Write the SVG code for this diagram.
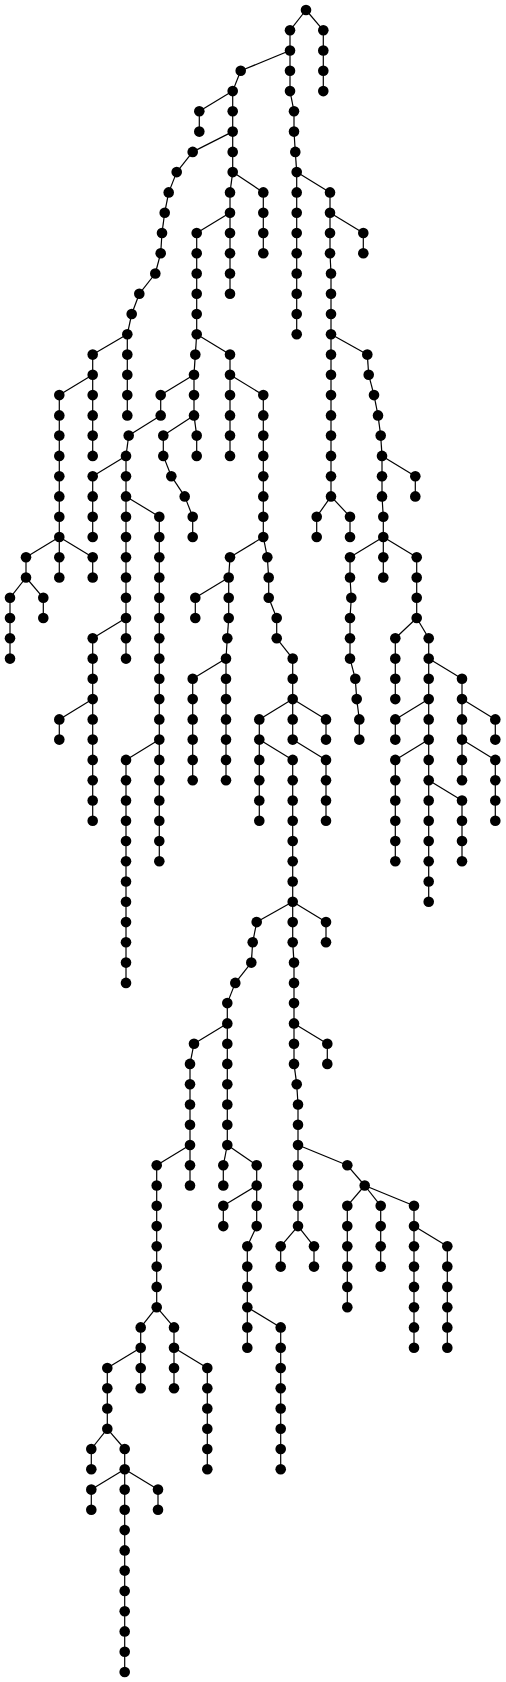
<svg xmlns="http://www.w3.org/2000/svg" width="506" height="1682" viewBox="0 0 506 1682">
<style>
#edges path{stroke:#000;stroke-width:1.2;fill:none}
#nodes circle{fill:#000;stroke:none}
</style>
<rect width="506" height="1682" fill="#fff"/>
<g id="edges">
<path d="M306 10L323.3 30.3"/><path d="M323.3 30.3V50.5"/><path d="M323.3 50.5V70.8"/><path d="M323.3 70.8V91.1"/>
<path d="M306 10L290 30.3"/><path d="M290 30.3V50.5"/><path d="M290 50.5V70.8"/><path d="M290 70.8V91.1"/><path d="M290 91.1L294 111.3"/><path d="M294 111.3V131.6"/><path d="M294 131.6L295.3 151.9"/><path d="M295.3 151.9L296.7 172.1"/><path d="M296.7 172.1V192.4"/><path d="M296.7 192.4V212.7"/><path d="M296.7 212.7V233"/><path d="M296.7 233V253.2"/><path d="M296.7 253.2V273.5"/><path d="M296.7 273.5V293.8"/><path d="M296.7 293.8V314"/><path d="M296.7 314V334.3"/>
<path d="M296.7 172.1L330 192.4"/><path d="M330 192.4V212.7"/><path d="M330 212.7V233"/><path d="M330 233V253.2"/><path d="M330 253.2L331 273.5"/><path d="M331 273.5V293.8"/><path d="M331 293.8V314"/><path d="M331 314V334.3"/><path d="M331 334.3V354.6"/><path d="M331 354.6V374.8"/><path d="M331 374.8V395.1"/><path d="M331 395.1V415.4"/><path d="M331 415.4V435.6"/><path d="M331 435.6V455.9"/><path d="M331 455.9V476.2"/><path d="M331 476.2V496.4"/>
<path d="M330 212.7L363.3 233"/><path d="M363.3 233V253.2"/>
<path d="M331 496.4L316.7 516.7"/><path d="M316.7 516.7V537"/>
<path d="M331 496.4L350 516.7"/><path d="M350 516.7V537"/>
<path d="M331 334.3L367.3 354.6"/><path d="M367.3 354.6L368.7 374.8"/><path d="M368.7 374.8L374 395.1"/><path d="M374 395.1L378 415.4"/><path d="M378 415.4L380.7 435.6"/><path d="M380.7 435.6L382 455.9"/><path d="M382 455.9V476.2"/><path d="M382 476.2V496.4"/><path d="M382 496.4L383.3 516.7"/><path d="M383.3 516.7V537"/><path d="M383.3 537V557.2"/><path d="M383.3 557.2V577.5"/>
<path d="M382 455.9L415.3 476.2"/><path d="M415.3 476.2V496.4"/>
<path d="M383.3 537L350 557.2"/><path d="M350 557.2V577.5"/><path d="M350 577.5L351.3 597.8"/><path d="M351.3 597.8L350 618"/><path d="M350 618V638.3"/><path d="M350 638.3V658.6"/><path d="M350 658.6L355.3 678.8"/><path d="M355.3 678.8L356.7 699.1"/><path d="M356.7 699.1L359.3 719.4"/><path d="M359.3 719.4V739.6"/>
<path d="M383.3 537L416.7 557.2"/><path d="M416.7 557.2V577.5"/><path d="M416.7 577.5V597.8"/><path d="M416.7 597.8V618"/><path d="M416.7 618L428.7 638.3"/><path d="M428.7 638.3V658.6"/><path d="M428.7 658.6V678.8"/><path d="M428.7 678.8V699.1"/><path d="M428.7 699.1V719.4"/><path d="M428.7 719.4V739.6"/><path d="M428.7 739.6V759.9"/><path d="M428.7 759.9V780.2"/><path d="M428.7 780.2V800.5"/><path d="M428.7 800.5V820.7"/><path d="M428.7 820.7V841"/><path d="M428.7 841V861.3"/><path d="M428.7 861.3V881.5"/><path d="M428.7 881.5V901.8"/>
<path d="M416.7 618L395.3 638.3"/><path d="M395.3 638.3V658.6"/><path d="M395.3 658.6V678.8"/><path d="M395.3 678.8V699.1"/>
<path d="M428.7 658.6L462 678.8"/><path d="M462 678.8V699.1"/><path d="M462 699.1V719.4"/><path d="M462 719.4V739.6"/><path d="M462 739.6V759.9"/><path d="M462 759.9V780.2"/>
<path d="M428.7 699.1L395.3 719.4"/><path d="M395.3 719.4V739.6"/>
<path d="M462 699.1L495.3 719.4"/><path d="M495.3 719.4V739.6"/>
<path d="M428.7 739.6L395.3 759.9"/><path d="M395.3 759.9V780.2"/><path d="M395.3 780.2V800.5"/><path d="M395.3 800.5V820.7"/><path d="M395.3 820.7V841"/><path d="M395.3 841V861.3"/>
<path d="M462 739.6L495.3 759.9"/><path d="M495.3 759.9V780.2"/><path d="M495.3 780.2V800.5"/><path d="M495.3 800.5V820.7"/>
<path d="M428.7 780.2L462 800.5"/><path d="M462 800.5V820.7"/><path d="M462 820.7V841"/><path d="M462 841V861.3"/>
<path d="M290 50.5L240.7 70.8"/><path d="M240.7 70.8L232.7 91.1"/><path d="M232.7 91.1V111.3"/><path d="M232.7 111.3V131.6"/><path d="M232.7 131.6V151.9"/><path d="M232.7 151.9V172.1"/>
<path d="M232.7 91.1L199.3 111.3"/><path d="M199.3 111.3V131.6"/>
<path d="M232.7 131.6L192.7 151.9"/><path d="M192.7 151.9L176.7 172.1"/><path d="M176.7 172.1L168.7 192.4"/><path d="M168.7 192.4L164.7 212.7"/><path d="M164.7 212.7L162 233"/><path d="M162 233L160.7 253.2"/><path d="M160.7 253.2L155.3 273.5"/><path d="M155.3 273.5L139.3 293.8"/><path d="M139.3 293.8L131.7 314"/><path d="M131.7 314L127.3 334.3"/><path d="M127.3 334.3V354.6"/><path d="M127.3 354.6V374.8"/><path d="M127.3 374.8V395.1"/><path d="M127.3 395.1V415.4"/>
<path d="M232.7 172.1L263.3 192.4"/><path d="M263.3 192.4V212.7"/><path d="M263.3 212.7V233"/><path d="M263.3 233V253.2"/>
<path d="M232.7 172.1L230 192.4"/><path d="M230 192.4V212.7"/><path d="M230 212.7V233"/><path d="M230 233V253.2"/><path d="M230 253.2V273.5"/><path d="M230 273.5V293.8"/>
<path d="M230 212.7L196.7 233"/><path d="M196.7 233V253.2"/><path d="M196.7 253.2V273.5"/><path d="M196.7 273.5V293.8"/><path d="M196.7 293.8V314"/><path d="M196.7 314V334.3"/><path d="M196.7 334.3L195.3 354.6"/><path d="M195.3 354.6L194 374.8"/><path d="M194 374.8V395.1"/><path d="M194 395.1V415.4"/><path d="M194 415.4L196.7 435.6"/><path d="M196.7 435.6V455.9"/>
<path d="M194 374.8L160.7 395.1"/><path d="M160.7 395.1V415.4"/><path d="M160.7 415.4L128.7 435.6"/><path d="M128.7 435.6L126 455.9"/><path d="M126 455.9V476.2"/><path d="M126 476.2V496.4"/><path d="M126 496.4V516.7"/><path d="M126 516.7V537"/><path d="M126 537V557.2"/><path d="M126 557.2V577.5"/><path d="M126 577.5V597.8"/><path d="M126 597.8V618"/><path d="M126 618V638.3"/><path d="M126 638.3V658.6"/>
<path d="M194 415.4L163.3 435.6"/><path d="M163.3 435.6V455.9"/><path d="M163.3 455.9L171.3 476.2"/><path d="M171.3 476.2L184.7 496.4"/><path d="M184.7 496.4L192.7 516.7"/><path d="M192.7 516.7V537"/>
<path d="M126 455.9L92.7 476.2"/><path d="M92.7 476.2V496.4"/><path d="M92.7 496.4V516.7"/><path d="M92.7 516.7V537"/>
<path d="M126 496.4L159.3 516.7"/><path d="M159.3 516.7V537"/><path d="M159.3 537V557.2"/><path d="M159.3 557.2V577.5"/><path d="M159.3 577.5V597.8"/><path d="M159.3 597.8V618"/><path d="M159.3 618V638.3"/><path d="M159.3 638.3V658.6"/><path d="M159.3 658.6V678.8"/><path d="M159.3 678.8V699.1"/><path d="M159.3 699.1V719.4"/><path d="M159.3 719.4V739.6"/><path d="M159.3 739.6V759.9"/><path d="M159.3 759.9V780.2"/><path d="M159.3 780.2V800.5"/><path d="M159.3 800.5V820.7"/><path d="M159.3 820.7V841"/><path d="M159.3 841V861.3"/>
<path d="M126 618L92.7 638.3"/><path d="M92.7 638.3V658.6"/><path d="M92.7 658.6V678.8"/><path d="M92.7 678.8V699.1"/><path d="M92.7 699.1V719.4"/><path d="M92.7 719.4V739.6"/><path d="M92.7 739.6V759.9"/><path d="M92.7 759.9V780.2"/><path d="M92.7 780.2V800.5"/><path d="M92.7 800.5V820.7"/>
<path d="M92.7 699.1L59.3 719.4"/><path d="M59.3 719.4V739.6"/>
<path d="M159.3 739.6L126 759.9"/><path d="M126 759.9V780.2"/><path d="M126 780.2V800.5"/><path d="M126 800.5V820.7"/><path d="M126 820.7V841"/><path d="M126 841V861.3"/><path d="M126 861.3V881.5"/><path d="M126 881.5V901.8"/><path d="M126 901.8V922.1"/><path d="M126 922.1V942.3"/><path d="M126 942.3V962.6"/><path d="M126 962.6V982.9"/>
<path d="M196.7 334.3L230 354.6"/><path d="M230 354.6V374.8"/><path d="M230 374.8V395.1"/><path d="M230 395.1V415.4"/><path d="M230 415.4V435.6"/><path d="M230 435.6V455.9"/>
<path d="M230 374.8L263.3 395.1"/><path d="M263.3 395.1V415.4"/><path d="M263.3 415.4V435.6"/><path d="M263.3 435.6V455.9"/><path d="M263.3 455.9V476.2"/><path d="M263.3 476.2V496.4"/><path d="M263.3 496.4V516.7"/><path d="M263.3 516.7V537"/>
<path d="M263.3 537L230 557.2"/><path d="M230 557.2L228.7 577.5"/><path d="M228.7 577.5V597.8"/><path d="M228.7 597.8V618"/><path d="M228.7 618L227.3 638.3"/><path d="M227.3 638.3L226 658.6"/><path d="M226 658.6V678.8"/><path d="M226 678.8V699.1"/><path d="M226 699.1V719.4"/><path d="M226 719.4V739.6"/><path d="M226 739.6V759.9"/><path d="M226 759.9V780.2"/>
<path d="M228.7 577.5L195.3 597.8"/><path d="M195.3 597.8V618"/>
<path d="M226 658.6L192.7 678.8"/><path d="M192.7 678.8V699.1"/><path d="M192.7 699.1V719.4"/><path d="M192.7 719.4V739.6"/><path d="M192.7 739.6V759.9"/><path d="M192.7 759.9V780.2"/>
<path d="M263.3 537L267.3 557.2"/><path d="M267.3 557.2L268.7 577.5"/><path d="M268.7 577.5V597.8"/><path d="M268.7 597.8L276.7 618"/><path d="M276.7 618V638.3"/><path d="M276.7 638.3L292.7 658.6"/><path d="M292.7 658.6V678.8"/><path d="M292.7 678.8V699.1"/><path d="M292.7 699.1V719.4"/><path d="M292.7 719.4V739.6"/><path d="M292.7 739.6L326 759.9"/><path d="M326 759.9V780.2"/><path d="M326 780.2V800.5"/><path d="M326 800.5V820.7"/>
<path d="M292.7 699.1L259.3 719.4"/><path d="M259.3 719.4V739.6"/><path d="M259.3 739.6V759.9"/><path d="M259.3 759.9V780.2"/><path d="M259.3 780.2V800.5"/><path d="M259.3 800.5V820.7"/>
<path d="M292.7 699.1L326 719.4"/><path d="M326 719.4V739.6"/>
<path d="M259.3 739.6L292.7 759.9"/><path d="M292.7 759.9V780.2"/><path d="M292.7 780.2V800.5"/><path d="M292.7 800.5V820.7"/><path d="M292.7 820.7V841"/><path d="M292.7 841V861.3"/><path d="M292.7 861.3V881.5"/><path d="M292.7 881.5V901.8"/><path d="M292.7 901.8V922.1"/><path d="M292.7 922.1V942.3"/><path d="M292.7 942.3L294 962.6"/><path d="M294 962.6V982.9"/><path d="M294 982.9V1003.1"/><path d="M294 1003.1V1023.4"/><path d="M294 1023.4V1043.7"/><path d="M294 1043.7V1063.9"/><path d="M294 1063.9L296.7 1084.2"/><path d="M296.7 1084.2L298 1104.5"/><path d="M298 1104.5V1124.7"/><path d="M298 1124.7V1145"/><path d="M298 1145V1165.3"/><path d="M298 1165.3V1185.5"/><path d="M298 1185.5V1205.8"/><path d="M298 1205.8V1226.1"/>
<path d="M292.7 901.8L326 922.1"/><path d="M326 922.1V942.3"/>
<path d="M292.7 901.8L256.7 922.1"/><path d="M256.7 922.1L252.7 942.3"/><path d="M252.7 942.3L251.3 962.6"/><path d="M251.3 962.6L235.3 982.9"/><path d="M235.3 982.9L227.3 1003.1"/><path d="M227.3 1003.1V1023.4"/><path d="M227.3 1023.4V1043.7"/><path d="M227.3 1043.7V1063.9"/><path d="M227.3 1063.9V1084.2"/><path d="M227.3 1084.2V1104.5"/><path d="M227.3 1104.5V1124.7"/><path d="M227.3 1124.7V1145"/><path d="M227.3 1145L223.3 1165.3"/><path d="M223.3 1165.3V1185.5"/>
<path d="M227.3 1023.4L194 1043.7"/><path d="M194 1043.7L190 1063.9"/><path d="M190 1063.9V1084.2"/><path d="M190 1084.2V1104.5"/><path d="M190 1104.5V1124.7"/><path d="M190 1124.7V1145"/><path d="M190 1145V1165.3"/><path d="M190 1165.3V1185.5"/>
<path d="M190 1145L156.7 1165.3"/><path d="M156.7 1165.3V1185.5"/><path d="M156.7 1185.5V1205.8"/><path d="M156.7 1205.8V1226.1"/><path d="M156.7 1226.1V1246.3"/><path d="M156.7 1246.3V1266.6"/><path d="M156.7 1266.6V1286.9"/><path d="M156.7 1286.9V1307.2"/>
<path d="M227.3 1145L256.7 1165.3"/><path d="M256.7 1165.3V1185.5"/><path d="M256.7 1185.5V1205.8"/><path d="M256.7 1205.8V1226.1"/><path d="M256.7 1226.1L247.3 1246.3"/><path d="M247.3 1246.3V1266.6"/><path d="M247.3 1266.6V1286.9"/><path d="M247.3 1286.9V1307.2"/><path d="M247.3 1307.2V1327.4"/><path d="M247.3 1327.4V1347.7"/>
<path d="M256.7 1185.5L223.3 1205.8"/><path d="M223.3 1205.8V1226.1"/>
<path d="M294 1023.4L327.3 1043.7"/><path d="M327.3 1043.7V1063.9"/>
<path d="M298 1145L347.3 1165.3"/><path d="M347.3 1165.3L364.7 1185.5"/><path d="M364.7 1185.5L380.7 1205.8"/><path d="M380.7 1205.8V1226.1"/><path d="M380.7 1226.1V1246.3"/><path d="M380.7 1246.3V1266.6"/>
<path d="M364.7 1185.5L347.3 1205.8"/><path d="M347.3 1205.8V1226.1"/><path d="M347.3 1226.1V1246.3"/><path d="M347.3 1246.3V1266.6"/><path d="M347.3 1266.6V1286.9"/><path d="M347.3 1286.9V1307.2"/>
<path d="M364.7 1185.5L414 1205.8"/><path d="M414 1205.8V1226.1"/><path d="M414 1226.1V1246.3"/><path d="M414 1246.3V1266.6"/><path d="M414 1266.6V1286.9"/><path d="M414 1286.9V1307.2"/><path d="M414 1307.2V1327.4"/><path d="M414 1327.4V1347.7"/>
<path d="M414 1226.1L447.3 1246.3"/><path d="M447.3 1246.3V1266.6"/><path d="M447.3 1266.6V1286.9"/><path d="M447.3 1286.9V1307.2"/><path d="M447.3 1307.2V1327.4"/><path d="M447.3 1327.4V1347.7"/>
<path d="M298 1226.1L280.7 1246.3"/><path d="M280.7 1246.3V1266.6"/>
<path d="M298 1226.1L314 1246.3"/><path d="M314 1246.3V1266.6"/>
<path d="M247.3 1307.2L280.7 1327.4"/><path d="M280.7 1327.4V1347.7"/><path d="M280.7 1347.7V1368"/><path d="M280.7 1368V1388.2"/><path d="M280.7 1388.2V1408.5"/><path d="M280.7 1408.5V1428.8"/><path d="M280.7 1428.8V1449"/><path d="M280.7 1449V1469.3"/>
<path d="M156.7 1307.2L140.7 1327.4"/><path d="M140.7 1327.4V1347.7"/><path d="M140.7 1347.7V1368"/><path d="M140.7 1368V1388.2"/>
<path d="M156.7 1307.2L174 1327.4"/><path d="M174 1327.4V1347.7"/><path d="M174 1347.7V1368"/><path d="M174 1368V1388.2"/>
<path d="M140.7 1347.7L107.3 1368"/><path d="M107.3 1368V1388.2"/><path d="M107.3 1388.2V1408.5"/><path d="M107.3 1408.5V1428.8"/>
<path d="M174 1347.7L207.3 1368"/><path d="M207.3 1368V1388.2"/><path d="M207.3 1388.2V1408.5"/><path d="M207.3 1408.5V1428.8"/><path d="M207.3 1428.8V1449"/><path d="M207.3 1449V1469.3"/>
<path d="M107.3 1428.8L91.3 1449"/><path d="M91.3 1449V1469.3"/>
<path d="M107.3 1428.8L124.7 1449"/><path d="M124.7 1449V1469.3"/><path d="M124.7 1469.3V1489.6"/><path d="M124.7 1489.6V1509.8"/><path d="M124.7 1509.8V1530.1"/><path d="M124.7 1530.1V1550.4"/><path d="M124.7 1550.4V1570.6"/><path d="M124.7 1570.6V1590.9"/><path d="M124.7 1590.9V1611.2"/><path d="M124.7 1611.2V1631.4"/><path d="M124.7 1631.4V1651.7"/><path d="M124.7 1651.7V1672"/>
<path d="M124.7 1469.3L91.3 1489.6"/><path d="M91.3 1489.6V1509.8"/>
<path d="M124.7 1469.3L158 1489.6"/><path d="M158 1489.6V1509.8"/>
<path d="M127.3 334.3L92.7 354.6"/><path d="M92.7 354.6V374.8"/><path d="M92.7 374.8V395.1"/><path d="M92.7 395.1V415.4"/><path d="M92.7 415.4V435.6"/><path d="M92.7 435.6V455.9"/>
<path d="M92.7 374.8L59.3 395.1"/><path d="M59.3 395.1V415.4"/><path d="M59.3 415.4V435.6"/><path d="M59.3 435.6V455.9"/><path d="M59.3 455.9V476.2"/><path d="M59.3 476.2V496.4"/><path d="M59.3 496.4V516.7"/><path d="M59.3 516.7V537"/><path d="M59.3 537V557.2"/><path d="M59.3 557.2V577.5"/>
<path d="M59.3 537L26 557.2"/><path d="M26 557.2V577.5"/><path d="M26 577.5L10 597.8"/><path d="M10 597.8V618"/><path d="M10 618V638.3"/><path d="M10 638.3V658.6"/>
<path d="M26 577.5L43.3 597.8"/><path d="M43.3 597.8V618"/>
<path d="M59.3 537L92.7 557.2"/><path d="M92.7 557.2V577.5"/>
</g>
<g id="nodes">
<g id="n0-306"><circle cx="306" cy="10" r="5.3"/></g>
<g id="n1-323"><circle cx="323.3" cy="30.3" r="5.3"/></g>
<g id="n2-323"><circle cx="323.3" cy="50.5" r="5.3"/></g>
<g id="n3-323"><circle cx="323.3" cy="70.8" r="5.3"/></g>
<g id="n4-323"><circle cx="323.3" cy="91.1" r="5.3"/></g>
<g id="n1-290"><circle cx="290" cy="30.3" r="5.3"/></g>
<g id="n2-290"><circle cx="290" cy="50.5" r="5.3"/></g>
<g id="n3-290"><circle cx="290" cy="70.8" r="5.3"/></g>
<g id="n4-290"><circle cx="290" cy="91.1" r="5.3"/></g>
<g id="n5-294"><circle cx="294" cy="111.3" r="5.3"/></g>
<g id="n6-294"><circle cx="294" cy="131.6" r="5.3"/></g>
<g id="n7-295"><circle cx="295.3" cy="151.9" r="5.3"/></g>
<g id="n8-296"><circle cx="296.7" cy="172.1" r="5.3"/></g>
<g id="n9-296"><circle cx="296.7" cy="192.4" r="5.3"/></g>
<g id="n10-296"><circle cx="296.7" cy="212.7" r="5.3"/></g>
<g id="n11-296"><circle cx="296.7" cy="233" r="5.3"/></g>
<g id="n12-296"><circle cx="296.7" cy="253.2" r="5.3"/></g>
<g id="n13-296"><circle cx="296.7" cy="273.5" r="5.3"/></g>
<g id="n14-296"><circle cx="296.7" cy="293.8" r="5.3"/></g>
<g id="n15-296"><circle cx="296.7" cy="314" r="5.3"/></g>
<g id="n16-296"><circle cx="296.7" cy="334.3" r="5.3"/></g>
<g id="n9-330"><circle cx="330" cy="192.4" r="5.3"/></g>
<g id="n10-330"><circle cx="330" cy="212.7" r="5.3"/></g>
<g id="n11-330"><circle cx="330" cy="233" r="5.3"/></g>
<g id="n12-330"><circle cx="330" cy="253.2" r="5.3"/></g>
<g id="n13-331"><circle cx="331" cy="273.5" r="5.3"/></g>
<g id="n14-331"><circle cx="331" cy="293.8" r="5.3"/></g>
<g id="n15-331"><circle cx="331" cy="314" r="5.3"/></g>
<g id="n16-331"><circle cx="331" cy="334.3" r="5.3"/></g>
<g id="n17-331"><circle cx="331" cy="354.6" r="5.3"/></g>
<g id="n18-331"><circle cx="331" cy="374.8" r="5.3"/></g>
<g id="n19-331"><circle cx="331" cy="395.1" r="5.3"/></g>
<g id="n20-331"><circle cx="331" cy="415.4" r="5.3"/></g>
<g id="n21-331"><circle cx="331" cy="435.6" r="5.3"/></g>
<g id="n22-331"><circle cx="331" cy="455.9" r="5.3"/></g>
<g id="n23-331"><circle cx="331" cy="476.2" r="5.3"/></g>
<g id="n24-331"><circle cx="331" cy="496.4" r="5.3"/></g>
<g id="n11-363"><circle cx="363.3" cy="233" r="5.3"/></g>
<g id="n12-363"><circle cx="363.3" cy="253.2" r="5.3"/></g>
<g id="n25-316"><circle cx="316.7" cy="516.7" r="5.3"/></g>
<g id="n26-316"><circle cx="316.7" cy="537" r="5.3"/></g>
<g id="n25-350"><circle cx="350" cy="516.7" r="5.3"/></g>
<g id="n26-350"><circle cx="350" cy="537" r="5.3"/></g>
<g id="n17-367"><circle cx="367.3" cy="354.6" r="5.3"/></g>
<g id="n18-368"><circle cx="368.7" cy="374.8" r="5.3"/></g>
<g id="n19-374"><circle cx="374" cy="395.1" r="5.3"/></g>
<g id="n20-378"><circle cx="378" cy="415.4" r="5.3"/></g>
<g id="n21-380"><circle cx="380.7" cy="435.6" r="5.3"/></g>
<g id="n22-382"><circle cx="382" cy="455.9" r="5.3"/></g>
<g id="n23-382"><circle cx="382" cy="476.2" r="5.3"/></g>
<g id="n24-382"><circle cx="382" cy="496.4" r="5.3"/></g>
<g id="n25-383"><circle cx="383.3" cy="516.7" r="5.3"/></g>
<g id="n26-383"><circle cx="383.3" cy="537" r="5.3"/></g>
<g id="n27-383"><circle cx="383.3" cy="557.2" r="5.3"/></g>
<g id="n28-383"><circle cx="383.3" cy="577.5" r="5.3"/></g>
<g id="n23-415"><circle cx="415.3" cy="476.2" r="5.3"/></g>
<g id="n24-415"><circle cx="415.3" cy="496.4" r="5.3"/></g>
<g id="n27-350"><circle cx="350" cy="557.2" r="5.3"/></g>
<g id="n28-350"><circle cx="350" cy="577.5" r="5.3"/></g>
<g id="n29-351"><circle cx="351.3" cy="597.8" r="5.3"/></g>
<g id="n30-350"><circle cx="350" cy="618" r="5.3"/></g>
<g id="n31-350"><circle cx="350" cy="638.3" r="5.3"/></g>
<g id="n32-350"><circle cx="350" cy="658.6" r="5.3"/></g>
<g id="n33-355"><circle cx="355.3" cy="678.8" r="5.3"/></g>
<g id="n34-356"><circle cx="356.7" cy="699.1" r="5.3"/></g>
<g id="n35-359"><circle cx="359.3" cy="719.4" r="5.3"/></g>
<g id="n36-359"><circle cx="359.3" cy="739.6" r="5.3"/></g>
<g id="n27-416"><circle cx="416.7" cy="557.2" r="5.3"/></g>
<g id="n28-416"><circle cx="416.7" cy="577.5" r="5.3"/></g>
<g id="n29-416"><circle cx="416.7" cy="597.8" r="5.3"/></g>
<g id="n30-416"><circle cx="416.7" cy="618" r="5.3"/></g>
<g id="n31-428"><circle cx="428.7" cy="638.3" r="5.3"/></g>
<g id="n32-428"><circle cx="428.7" cy="658.6" r="5.3"/></g>
<g id="n33-428"><circle cx="428.7" cy="678.8" r="5.3"/></g>
<g id="n34-428"><circle cx="428.7" cy="699.1" r="5.3"/></g>
<g id="n35-428"><circle cx="428.7" cy="719.4" r="5.3"/></g>
<g id="n36-428"><circle cx="428.7" cy="739.6" r="5.3"/></g>
<g id="n37-428"><circle cx="428.7" cy="759.9" r="5.3"/></g>
<g id="n38-428"><circle cx="428.7" cy="780.2" r="5.3"/></g>
<g id="n39-428"><circle cx="428.7" cy="800.5" r="5.3"/></g>
<g id="n40-428"><circle cx="428.7" cy="820.7" r="5.3"/></g>
<g id="n41-428"><circle cx="428.7" cy="841" r="5.3"/></g>
<g id="n42-428"><circle cx="428.7" cy="861.3" r="5.3"/></g>
<g id="n43-428"><circle cx="428.7" cy="881.5" r="5.3"/></g>
<g id="n44-428"><circle cx="428.7" cy="901.8" r="5.3"/></g>
<g id="n31-395"><circle cx="395.3" cy="638.3" r="5.3"/></g>
<g id="n32-395"><circle cx="395.3" cy="658.6" r="5.3"/></g>
<g id="n33-395"><circle cx="395.3" cy="678.8" r="5.3"/></g>
<g id="n34-395"><circle cx="395.3" cy="699.1" r="5.3"/></g>
<g id="n33-462"><circle cx="462" cy="678.8" r="5.3"/></g>
<g id="n34-462"><circle cx="462" cy="699.1" r="5.3"/></g>
<g id="n35-462"><circle cx="462" cy="719.4" r="5.3"/></g>
<g id="n36-462"><circle cx="462" cy="739.6" r="5.3"/></g>
<g id="n37-462"><circle cx="462" cy="759.9" r="5.3"/></g>
<g id="n38-462"><circle cx="462" cy="780.2" r="5.3"/></g>
<g id="n35-395"><circle cx="395.3" cy="719.4" r="5.3"/></g>
<g id="n36-395"><circle cx="395.3" cy="739.6" r="5.3"/></g>
<g id="n35-495"><circle cx="495.3" cy="719.4" r="5.3"/></g>
<g id="n36-495"><circle cx="495.3" cy="739.6" r="5.3"/></g>
<g id="n37-395"><circle cx="395.3" cy="759.9" r="5.3"/></g>
<g id="n38-395"><circle cx="395.3" cy="780.2" r="5.3"/></g>
<g id="n39-395"><circle cx="395.3" cy="800.5" r="5.3"/></g>
<g id="n40-395"><circle cx="395.3" cy="820.7" r="5.3"/></g>
<g id="n41-395"><circle cx="395.3" cy="841" r="5.3"/></g>
<g id="n42-395"><circle cx="395.3" cy="861.3" r="5.3"/></g>
<g id="n37-495"><circle cx="495.3" cy="759.9" r="5.3"/></g>
<g id="n38-495"><circle cx="495.3" cy="780.2" r="5.3"/></g>
<g id="n39-495"><circle cx="495.3" cy="800.5" r="5.3"/></g>
<g id="n40-495"><circle cx="495.3" cy="820.7" r="5.3"/></g>
<g id="n39-462"><circle cx="462" cy="800.5" r="5.3"/></g>
<g id="n40-462"><circle cx="462" cy="820.7" r="5.3"/></g>
<g id="n41-462"><circle cx="462" cy="841" r="5.3"/></g>
<g id="n42-462"><circle cx="462" cy="861.3" r="5.3"/></g>
<g id="n3-240"><circle cx="240.7" cy="70.8" r="5.3"/></g>
<g id="n4-232"><circle cx="232.7" cy="91.1" r="5.3"/></g>
<g id="n5-232"><circle cx="232.7" cy="111.3" r="5.3"/></g>
<g id="n6-232"><circle cx="232.7" cy="131.6" r="5.3"/></g>
<g id="n7-232"><circle cx="232.7" cy="151.9" r="5.3"/></g>
<g id="n8-232"><circle cx="232.7" cy="172.1" r="5.3"/></g>
<g id="n5-199"><circle cx="199.3" cy="111.3" r="5.3"/></g>
<g id="n6-199"><circle cx="199.3" cy="131.6" r="5.3"/></g>
<g id="n7-192"><circle cx="192.7" cy="151.9" r="5.3"/></g>
<g id="n8-176"><circle cx="176.7" cy="172.1" r="5.3"/></g>
<g id="n9-168"><circle cx="168.7" cy="192.4" r="5.3"/></g>
<g id="n10-164"><circle cx="164.7" cy="212.7" r="5.3"/></g>
<g id="n11-162"><circle cx="162" cy="233" r="5.3"/></g>
<g id="n12-160"><circle cx="160.7" cy="253.2" r="5.3"/></g>
<g id="n13-155"><circle cx="155.3" cy="273.5" r="5.3"/></g>
<g id="n14-139"><circle cx="139.3" cy="293.8" r="5.3"/></g>
<g id="n15-131"><circle cx="131.7" cy="314" r="5.3"/></g>
<g id="n16-127"><circle cx="127.3" cy="334.3" r="5.3"/></g>
<g id="n17-127"><circle cx="127.3" cy="354.6" r="5.3"/></g>
<g id="n18-127"><circle cx="127.3" cy="374.8" r="5.3"/></g>
<g id="n19-127"><circle cx="127.3" cy="395.1" r="5.3"/></g>
<g id="n20-127"><circle cx="127.3" cy="415.4" r="5.3"/></g>
<g id="n9-263"><circle cx="263.3" cy="192.4" r="5.3"/></g>
<g id="n10-263"><circle cx="263.3" cy="212.7" r="5.3"/></g>
<g id="n11-263"><circle cx="263.3" cy="233" r="5.3"/></g>
<g id="n12-263"><circle cx="263.3" cy="253.2" r="5.3"/></g>
<g id="n9-230"><circle cx="230" cy="192.4" r="5.3"/></g>
<g id="n10-230"><circle cx="230" cy="212.7" r="5.3"/></g>
<g id="n11-230"><circle cx="230" cy="233" r="5.3"/></g>
<g id="n12-230"><circle cx="230" cy="253.2" r="5.3"/></g>
<g id="n13-230"><circle cx="230" cy="273.5" r="5.3"/></g>
<g id="n14-230"><circle cx="230" cy="293.8" r="5.3"/></g>
<g id="n11-196"><circle cx="196.7" cy="233" r="5.3"/></g>
<g id="n12-196"><circle cx="196.7" cy="253.2" r="5.3"/></g>
<g id="n13-196"><circle cx="196.7" cy="273.5" r="5.3"/></g>
<g id="n14-196"><circle cx="196.7" cy="293.8" r="5.3"/></g>
<g id="n15-196"><circle cx="196.7" cy="314" r="5.3"/></g>
<g id="n16-196"><circle cx="196.7" cy="334.3" r="5.3"/></g>
<g id="n17-195"><circle cx="195.3" cy="354.6" r="5.3"/></g>
<g id="n18-194"><circle cx="194" cy="374.8" r="5.3"/></g>
<g id="n19-194"><circle cx="194" cy="395.1" r="5.3"/></g>
<g id="n20-194"><circle cx="194" cy="415.4" r="5.3"/></g>
<g id="n21-196"><circle cx="196.7" cy="435.6" r="5.3"/></g>
<g id="n22-196"><circle cx="196.7" cy="455.9" r="5.3"/></g>
<g id="n19-160"><circle cx="160.7" cy="395.1" r="5.3"/></g>
<g id="n20-160"><circle cx="160.7" cy="415.4" r="5.3"/></g>
<g id="n21-128"><circle cx="128.7" cy="435.6" r="5.3"/></g>
<g id="n22-126"><circle cx="126" cy="455.9" r="5.3"/></g>
<g id="n23-126"><circle cx="126" cy="476.2" r="5.3"/></g>
<g id="n24-126"><circle cx="126" cy="496.4" r="5.3"/></g>
<g id="n25-126"><circle cx="126" cy="516.7" r="5.3"/></g>
<g id="n26-126"><circle cx="126" cy="537" r="5.3"/></g>
<g id="n27-126"><circle cx="126" cy="557.2" r="5.3"/></g>
<g id="n28-126"><circle cx="126" cy="577.5" r="5.3"/></g>
<g id="n29-126"><circle cx="126" cy="597.8" r="5.3"/></g>
<g id="n30-126"><circle cx="126" cy="618" r="5.3"/></g>
<g id="n31-126"><circle cx="126" cy="638.3" r="5.3"/></g>
<g id="n32-126"><circle cx="126" cy="658.6" r="5.3"/></g>
<g id="n21-163"><circle cx="163.3" cy="435.6" r="5.3"/></g>
<g id="n22-163"><circle cx="163.3" cy="455.9" r="5.3"/></g>
<g id="n23-171"><circle cx="171.3" cy="476.2" r="5.3"/></g>
<g id="n24-184"><circle cx="184.7" cy="496.4" r="5.3"/></g>
<g id="n25-192"><circle cx="192.7" cy="516.7" r="5.3"/></g>
<g id="n26-192"><circle cx="192.7" cy="537" r="5.3"/></g>
<g id="n23-92"><circle cx="92.7" cy="476.2" r="5.3"/></g>
<g id="n24-92"><circle cx="92.7" cy="496.4" r="5.3"/></g>
<g id="n25-92"><circle cx="92.7" cy="516.7" r="5.3"/></g>
<g id="n26-92"><circle cx="92.7" cy="537" r="5.3"/></g>
<g id="n25-159"><circle cx="159.3" cy="516.7" r="5.3"/></g>
<g id="n26-159"><circle cx="159.3" cy="537" r="5.3"/></g>
<g id="n27-159"><circle cx="159.3" cy="557.2" r="5.3"/></g>
<g id="n28-159"><circle cx="159.3" cy="577.5" r="5.3"/></g>
<g id="n29-159"><circle cx="159.3" cy="597.8" r="5.3"/></g>
<g id="n30-159"><circle cx="159.3" cy="618" r="5.3"/></g>
<g id="n31-159"><circle cx="159.3" cy="638.3" r="5.3"/></g>
<g id="n32-159"><circle cx="159.3" cy="658.6" r="5.3"/></g>
<g id="n33-159"><circle cx="159.3" cy="678.8" r="5.3"/></g>
<g id="n34-159"><circle cx="159.3" cy="699.1" r="5.3"/></g>
<g id="n35-159"><circle cx="159.3" cy="719.4" r="5.3"/></g>
<g id="n36-159"><circle cx="159.3" cy="739.6" r="5.3"/></g>
<g id="n37-159"><circle cx="159.3" cy="759.9" r="5.3"/></g>
<g id="n38-159"><circle cx="159.3" cy="780.2" r="5.3"/></g>
<g id="n39-159"><circle cx="159.3" cy="800.5" r="5.3"/></g>
<g id="n40-159"><circle cx="159.3" cy="820.7" r="5.3"/></g>
<g id="n41-159"><circle cx="159.3" cy="841" r="5.3"/></g>
<g id="n42-159"><circle cx="159.3" cy="861.3" r="5.3"/></g>
<g id="n31-92"><circle cx="92.7" cy="638.3" r="5.3"/></g>
<g id="n32-92"><circle cx="92.7" cy="658.6" r="5.3"/></g>
<g id="n33-92"><circle cx="92.7" cy="678.8" r="5.3"/></g>
<g id="n34-92"><circle cx="92.7" cy="699.1" r="5.3"/></g>
<g id="n35-92"><circle cx="92.7" cy="719.4" r="5.3"/></g>
<g id="n36-92"><circle cx="92.7" cy="739.6" r="5.3"/></g>
<g id="n37-92"><circle cx="92.7" cy="759.9" r="5.3"/></g>
<g id="n38-92"><circle cx="92.7" cy="780.2" r="5.3"/></g>
<g id="n39-92"><circle cx="92.7" cy="800.5" r="5.3"/></g>
<g id="n40-92"><circle cx="92.7" cy="820.7" r="5.3"/></g>
<g id="n35-59"><circle cx="59.3" cy="719.4" r="5.3"/></g>
<g id="n36-59"><circle cx="59.3" cy="739.6" r="5.3"/></g>
<g id="n37-126"><circle cx="126" cy="759.9" r="5.3"/></g>
<g id="n38-126"><circle cx="126" cy="780.2" r="5.3"/></g>
<g id="n39-126"><circle cx="126" cy="800.5" r="5.3"/></g>
<g id="n40-126"><circle cx="126" cy="820.7" r="5.3"/></g>
<g id="n41-126"><circle cx="126" cy="841" r="5.3"/></g>
<g id="n42-126"><circle cx="126" cy="861.3" r="5.3"/></g>
<g id="n43-126"><circle cx="126" cy="881.5" r="5.3"/></g>
<g id="n44-126"><circle cx="126" cy="901.8" r="5.3"/></g>
<g id="n45-126"><circle cx="126" cy="922.1" r="5.3"/></g>
<g id="n46-126"><circle cx="126" cy="942.3" r="5.3"/></g>
<g id="n47-126"><circle cx="126" cy="962.6" r="5.3"/></g>
<g id="n48-126"><circle cx="126" cy="982.9" r="5.3"/></g>
<g id="n17-230"><circle cx="230" cy="354.6" r="5.3"/></g>
<g id="n18-230"><circle cx="230" cy="374.8" r="5.3"/></g>
<g id="n19-230"><circle cx="230" cy="395.1" r="5.3"/></g>
<g id="n20-230"><circle cx="230" cy="415.4" r="5.3"/></g>
<g id="n21-230"><circle cx="230" cy="435.6" r="5.3"/></g>
<g id="n22-230"><circle cx="230" cy="455.9" r="5.3"/></g>
<g id="n19-263"><circle cx="263.3" cy="395.1" r="5.3"/></g>
<g id="n20-263"><circle cx="263.3" cy="415.4" r="5.3"/></g>
<g id="n21-263"><circle cx="263.3" cy="435.6" r="5.3"/></g>
<g id="n22-263"><circle cx="263.3" cy="455.9" r="5.3"/></g>
<g id="n23-263"><circle cx="263.3" cy="476.2" r="5.3"/></g>
<g id="n24-263"><circle cx="263.3" cy="496.4" r="5.3"/></g>
<g id="n25-263"><circle cx="263.3" cy="516.7" r="5.3"/></g>
<g id="n26-263"><circle cx="263.3" cy="537" r="5.3"/></g>
<g id="n27-230"><circle cx="230" cy="557.2" r="5.3"/></g>
<g id="n28-228"><circle cx="228.7" cy="577.5" r="5.3"/></g>
<g id="n29-228"><circle cx="228.7" cy="597.8" r="5.3"/></g>
<g id="n30-228"><circle cx="228.7" cy="618" r="5.3"/></g>
<g id="n31-227"><circle cx="227.3" cy="638.3" r="5.3"/></g>
<g id="n32-226"><circle cx="226" cy="658.6" r="5.3"/></g>
<g id="n33-226"><circle cx="226" cy="678.8" r="5.3"/></g>
<g id="n34-226"><circle cx="226" cy="699.1" r="5.3"/></g>
<g id="n35-226"><circle cx="226" cy="719.4" r="5.3"/></g>
<g id="n36-226"><circle cx="226" cy="739.6" r="5.3"/></g>
<g id="n37-226"><circle cx="226" cy="759.9" r="5.3"/></g>
<g id="n38-226"><circle cx="226" cy="780.2" r="5.3"/></g>
<g id="n29-195"><circle cx="195.3" cy="597.8" r="5.3"/></g>
<g id="n30-195"><circle cx="195.3" cy="618" r="5.3"/></g>
<g id="n33-192"><circle cx="192.7" cy="678.8" r="5.3"/></g>
<g id="n34-192"><circle cx="192.7" cy="699.1" r="5.3"/></g>
<g id="n35-192"><circle cx="192.7" cy="719.4" r="5.3"/></g>
<g id="n36-192"><circle cx="192.7" cy="739.6" r="5.3"/></g>
<g id="n37-192"><circle cx="192.7" cy="759.9" r="5.3"/></g>
<g id="n38-192"><circle cx="192.7" cy="780.2" r="5.3"/></g>
<g id="n27-267"><circle cx="267.3" cy="557.2" r="5.3"/></g>
<g id="n28-268"><circle cx="268.7" cy="577.5" r="5.3"/></g>
<g id="n29-268"><circle cx="268.7" cy="597.8" r="5.3"/></g>
<g id="n30-276"><circle cx="276.7" cy="618" r="5.3"/></g>
<g id="n31-276"><circle cx="276.7" cy="638.3" r="5.3"/></g>
<g id="n32-292"><circle cx="292.7" cy="658.6" r="5.3"/></g>
<g id="n33-292"><circle cx="292.7" cy="678.8" r="5.3"/></g>
<g id="n34-292"><circle cx="292.7" cy="699.1" r="5.3"/></g>
<g id="n35-292"><circle cx="292.7" cy="719.4" r="5.3"/></g>
<g id="n36-292"><circle cx="292.7" cy="739.6" r="5.3"/></g>
<g id="n37-326"><circle cx="326" cy="759.9" r="5.3"/></g>
<g id="n38-326"><circle cx="326" cy="780.2" r="5.3"/></g>
<g id="n39-326"><circle cx="326" cy="800.5" r="5.3"/></g>
<g id="n40-326"><circle cx="326" cy="820.7" r="5.3"/></g>
<g id="n35-259"><circle cx="259.3" cy="719.4" r="5.3"/></g>
<g id="n36-259"><circle cx="259.3" cy="739.6" r="5.3"/></g>
<g id="n37-259"><circle cx="259.3" cy="759.9" r="5.3"/></g>
<g id="n38-259"><circle cx="259.3" cy="780.2" r="5.3"/></g>
<g id="n39-259"><circle cx="259.3" cy="800.5" r="5.3"/></g>
<g id="n40-259"><circle cx="259.3" cy="820.7" r="5.3"/></g>
<g id="n35-326"><circle cx="326" cy="719.4" r="5.3"/></g>
<g id="n36-326"><circle cx="326" cy="739.6" r="5.3"/></g>
<g id="n37-292"><circle cx="292.7" cy="759.9" r="5.3"/></g>
<g id="n38-292"><circle cx="292.7" cy="780.2" r="5.3"/></g>
<g id="n39-292"><circle cx="292.7" cy="800.5" r="5.3"/></g>
<g id="n40-292"><circle cx="292.7" cy="820.7" r="5.3"/></g>
<g id="n41-292"><circle cx="292.7" cy="841" r="5.3"/></g>
<g id="n42-292"><circle cx="292.7" cy="861.3" r="5.3"/></g>
<g id="n43-292"><circle cx="292.7" cy="881.5" r="5.3"/></g>
<g id="n44-292"><circle cx="292.7" cy="901.8" r="5.3"/></g>
<g id="n45-292"><circle cx="292.7" cy="922.1" r="5.3"/></g>
<g id="n46-292"><circle cx="292.7" cy="942.3" r="5.3"/></g>
<g id="n47-294"><circle cx="294" cy="962.6" r="5.3"/></g>
<g id="n48-294"><circle cx="294" cy="982.9" r="5.3"/></g>
<g id="n49-294"><circle cx="294" cy="1003.1" r="5.3"/></g>
<g id="n50-294"><circle cx="294" cy="1023.4" r="5.3"/></g>
<g id="n51-294"><circle cx="294" cy="1043.7" r="5.3"/></g>
<g id="n52-294"><circle cx="294" cy="1063.9" r="5.3"/></g>
<g id="n53-296"><circle cx="296.7" cy="1084.2" r="5.3"/></g>
<g id="n54-298"><circle cx="298" cy="1104.5" r="5.3"/></g>
<g id="n55-298"><circle cx="298" cy="1124.7" r="5.3"/></g>
<g id="n56-298"><circle cx="298" cy="1145" r="5.3"/></g>
<g id="n57-298"><circle cx="298" cy="1165.3" r="5.3"/></g>
<g id="n58-298"><circle cx="298" cy="1185.5" r="5.3"/></g>
<g id="n59-298"><circle cx="298" cy="1205.8" r="5.3"/></g>
<g id="n60-298"><circle cx="298" cy="1226.1" r="5.3"/></g>
<g id="n45-326"><circle cx="326" cy="922.1" r="5.3"/></g>
<g id="n46-326"><circle cx="326" cy="942.3" r="5.3"/></g>
<g id="n45-256"><circle cx="256.7" cy="922.1" r="5.3"/></g>
<g id="n46-252"><circle cx="252.7" cy="942.3" r="5.3"/></g>
<g id="n47-251"><circle cx="251.3" cy="962.6" r="5.3"/></g>
<g id="n48-235"><circle cx="235.3" cy="982.9" r="5.3"/></g>
<g id="n49-227"><circle cx="227.3" cy="1003.1" r="5.3"/></g>
<g id="n50-227"><circle cx="227.3" cy="1023.4" r="5.3"/></g>
<g id="n51-227"><circle cx="227.3" cy="1043.7" r="5.3"/></g>
<g id="n52-227"><circle cx="227.3" cy="1063.9" r="5.3"/></g>
<g id="n53-227"><circle cx="227.3" cy="1084.2" r="5.3"/></g>
<g id="n54-227"><circle cx="227.3" cy="1104.5" r="5.3"/></g>
<g id="n55-227"><circle cx="227.3" cy="1124.7" r="5.3"/></g>
<g id="n56-227"><circle cx="227.3" cy="1145" r="5.3"/></g>
<g id="n57-223"><circle cx="223.3" cy="1165.3" r="5.3"/></g>
<g id="n58-223"><circle cx="223.3" cy="1185.5" r="5.3"/></g>
<g id="n51-194"><circle cx="194" cy="1043.7" r="5.3"/></g>
<g id="n52-190"><circle cx="190" cy="1063.9" r="5.3"/></g>
<g id="n53-190"><circle cx="190" cy="1084.2" r="5.3"/></g>
<g id="n54-190"><circle cx="190" cy="1104.5" r="5.3"/></g>
<g id="n55-190"><circle cx="190" cy="1124.7" r="5.3"/></g>
<g id="n56-190"><circle cx="190" cy="1145" r="5.3"/></g>
<g id="n57-190"><circle cx="190" cy="1165.3" r="5.3"/></g>
<g id="n58-190"><circle cx="190" cy="1185.5" r="5.3"/></g>
<g id="n57-156"><circle cx="156.7" cy="1165.3" r="5.3"/></g>
<g id="n58-156"><circle cx="156.7" cy="1185.5" r="5.3"/></g>
<g id="n59-156"><circle cx="156.7" cy="1205.8" r="5.3"/></g>
<g id="n60-156"><circle cx="156.7" cy="1226.1" r="5.3"/></g>
<g id="n61-156"><circle cx="156.7" cy="1246.3" r="5.3"/></g>
<g id="n62-156"><circle cx="156.7" cy="1266.6" r="5.3"/></g>
<g id="n63-156"><circle cx="156.7" cy="1286.9" r="5.3"/></g>
<g id="n64-156"><circle cx="156.7" cy="1307.2" r="5.3"/></g>
<g id="n57-256"><circle cx="256.7" cy="1165.3" r="5.3"/></g>
<g id="n58-256"><circle cx="256.7" cy="1185.5" r="5.3"/></g>
<g id="n59-256"><circle cx="256.7" cy="1205.8" r="5.3"/></g>
<g id="n60-256"><circle cx="256.7" cy="1226.1" r="5.3"/></g>
<g id="n61-247"><circle cx="247.3" cy="1246.3" r="5.3"/></g>
<g id="n62-247"><circle cx="247.3" cy="1266.6" r="5.3"/></g>
<g id="n63-247"><circle cx="247.3" cy="1286.9" r="5.3"/></g>
<g id="n64-247"><circle cx="247.3" cy="1307.2" r="5.3"/></g>
<g id="n65-247"><circle cx="247.3" cy="1327.4" r="5.3"/></g>
<g id="n66-247"><circle cx="247.3" cy="1347.7" r="5.3"/></g>
<g id="n59-223"><circle cx="223.3" cy="1205.8" r="5.3"/></g>
<g id="n60-223"><circle cx="223.3" cy="1226.1" r="5.3"/></g>
<g id="n51-327"><circle cx="327.3" cy="1043.7" r="5.3"/></g>
<g id="n52-327"><circle cx="327.3" cy="1063.9" r="5.3"/></g>
<g id="n57-347"><circle cx="347.3" cy="1165.3" r="5.3"/></g>
<g id="n58-364"><circle cx="364.7" cy="1185.5" r="5.3"/></g>
<g id="n59-380"><circle cx="380.7" cy="1205.8" r="5.3"/></g>
<g id="n60-380"><circle cx="380.7" cy="1226.1" r="5.3"/></g>
<g id="n61-380"><circle cx="380.7" cy="1246.3" r="5.3"/></g>
<g id="n62-380"><circle cx="380.7" cy="1266.6" r="5.3"/></g>
<g id="n59-347"><circle cx="347.3" cy="1205.8" r="5.3"/></g>
<g id="n60-347"><circle cx="347.3" cy="1226.1" r="5.3"/></g>
<g id="n61-347"><circle cx="347.3" cy="1246.3" r="5.3"/></g>
<g id="n62-347"><circle cx="347.3" cy="1266.6" r="5.3"/></g>
<g id="n63-347"><circle cx="347.3" cy="1286.9" r="5.3"/></g>
<g id="n64-347"><circle cx="347.3" cy="1307.2" r="5.3"/></g>
<g id="n59-414"><circle cx="414" cy="1205.8" r="5.3"/></g>
<g id="n60-414"><circle cx="414" cy="1226.1" r="5.3"/></g>
<g id="n61-414"><circle cx="414" cy="1246.3" r="5.3"/></g>
<g id="n62-414"><circle cx="414" cy="1266.6" r="5.3"/></g>
<g id="n63-414"><circle cx="414" cy="1286.9" r="5.3"/></g>
<g id="n64-414"><circle cx="414" cy="1307.2" r="5.3"/></g>
<g id="n65-414"><circle cx="414" cy="1327.4" r="5.3"/></g>
<g id="n66-414"><circle cx="414" cy="1347.7" r="5.3"/></g>
<g id="n61-447"><circle cx="447.3" cy="1246.3" r="5.3"/></g>
<g id="n62-447"><circle cx="447.3" cy="1266.6" r="5.3"/></g>
<g id="n63-447"><circle cx="447.3" cy="1286.9" r="5.3"/></g>
<g id="n64-447"><circle cx="447.3" cy="1307.2" r="5.3"/></g>
<g id="n65-447"><circle cx="447.3" cy="1327.4" r="5.3"/></g>
<g id="n66-447"><circle cx="447.3" cy="1347.7" r="5.3"/></g>
<g id="n61-280"><circle cx="280.7" cy="1246.3" r="5.3"/></g>
<g id="n62-280"><circle cx="280.7" cy="1266.6" r="5.3"/></g>
<g id="n61-314"><circle cx="314" cy="1246.3" r="5.3"/></g>
<g id="n62-314"><circle cx="314" cy="1266.6" r="5.3"/></g>
<g id="n65-280"><circle cx="280.7" cy="1327.4" r="5.3"/></g>
<g id="n66-280"><circle cx="280.7" cy="1347.7" r="5.3"/></g>
<g id="n67-280"><circle cx="280.7" cy="1368" r="5.3"/></g>
<g id="n68-280"><circle cx="280.7" cy="1388.2" r="5.3"/></g>
<g id="n69-280"><circle cx="280.7" cy="1408.5" r="5.3"/></g>
<g id="n70-280"><circle cx="280.7" cy="1428.8" r="5.3"/></g>
<g id="n71-280"><circle cx="280.7" cy="1449" r="5.3"/></g>
<g id="n72-280"><circle cx="280.7" cy="1469.3" r="5.3"/></g>
<g id="n65-140"><circle cx="140.7" cy="1327.4" r="5.3"/></g>
<g id="n66-140"><circle cx="140.7" cy="1347.7" r="5.3"/></g>
<g id="n67-140"><circle cx="140.7" cy="1368" r="5.3"/></g>
<g id="n68-140"><circle cx="140.7" cy="1388.2" r="5.3"/></g>
<g id="n65-174"><circle cx="174" cy="1327.4" r="5.3"/></g>
<g id="n66-174"><circle cx="174" cy="1347.7" r="5.3"/></g>
<g id="n67-174"><circle cx="174" cy="1368" r="5.3"/></g>
<g id="n68-174"><circle cx="174" cy="1388.2" r="5.3"/></g>
<g id="n67-107"><circle cx="107.3" cy="1368" r="5.3"/></g>
<g id="n68-107"><circle cx="107.3" cy="1388.2" r="5.3"/></g>
<g id="n69-107"><circle cx="107.3" cy="1408.5" r="5.3"/></g>
<g id="n70-107"><circle cx="107.3" cy="1428.8" r="5.3"/></g>
<g id="n67-207"><circle cx="207.3" cy="1368" r="5.3"/></g>
<g id="n68-207"><circle cx="207.3" cy="1388.2" r="5.3"/></g>
<g id="n69-207"><circle cx="207.3" cy="1408.5" r="5.3"/></g>
<g id="n70-207"><circle cx="207.3" cy="1428.8" r="5.3"/></g>
<g id="n71-207"><circle cx="207.3" cy="1449" r="5.3"/></g>
<g id="n72-207"><circle cx="207.3" cy="1469.3" r="5.3"/></g>
<g id="n71-91"><circle cx="91.3" cy="1449" r="5.3"/></g>
<g id="n72-91"><circle cx="91.3" cy="1469.3" r="5.3"/></g>
<g id="n71-124"><circle cx="124.7" cy="1449" r="5.3"/></g>
<g id="n72-124"><circle cx="124.7" cy="1469.3" r="5.3"/></g>
<g id="n73-124"><circle cx="124.7" cy="1489.6" r="5.3"/></g>
<g id="n74-124"><circle cx="124.7" cy="1509.8" r="5.3"/></g>
<g id="n75-124"><circle cx="124.7" cy="1530.1" r="5.3"/></g>
<g id="n76-124"><circle cx="124.7" cy="1550.4" r="5.3"/></g>
<g id="n77-124"><circle cx="124.7" cy="1570.6" r="5.3"/></g>
<g id="n78-124"><circle cx="124.7" cy="1590.9" r="5.3"/></g>
<g id="n79-124"><circle cx="124.7" cy="1611.2" r="5.3"/></g>
<g id="n80-124"><circle cx="124.7" cy="1631.4" r="5.3"/></g>
<g id="n81-124"><circle cx="124.7" cy="1651.7" r="5.3"/></g>
<g id="n82-124"><circle cx="124.7" cy="1672" r="5.3"/></g>
<g id="n73-91"><circle cx="91.3" cy="1489.6" r="5.3"/></g>
<g id="n74-91"><circle cx="91.3" cy="1509.8" r="5.3"/></g>
<g id="n73-158"><circle cx="158" cy="1489.6" r="5.3"/></g>
<g id="n74-158"><circle cx="158" cy="1509.8" r="5.3"/></g>
<g id="n17-92"><circle cx="92.7" cy="354.6" r="5.3"/></g>
<g id="n18-92"><circle cx="92.7" cy="374.8" r="5.3"/></g>
<g id="n19-92"><circle cx="92.7" cy="395.1" r="5.3"/></g>
<g id="n20-92"><circle cx="92.7" cy="415.4" r="5.3"/></g>
<g id="n21-92"><circle cx="92.7" cy="435.6" r="5.3"/></g>
<g id="n22-92"><circle cx="92.7" cy="455.9" r="5.3"/></g>
<g id="n19-59"><circle cx="59.3" cy="395.1" r="5.3"/></g>
<g id="n20-59"><circle cx="59.3" cy="415.4" r="5.3"/></g>
<g id="n21-59"><circle cx="59.3" cy="435.6" r="5.3"/></g>
<g id="n22-59"><circle cx="59.3" cy="455.9" r="5.3"/></g>
<g id="n23-59"><circle cx="59.3" cy="476.2" r="5.3"/></g>
<g id="n24-59"><circle cx="59.3" cy="496.4" r="5.3"/></g>
<g id="n25-59"><circle cx="59.3" cy="516.7" r="5.3"/></g>
<g id="n26-59"><circle cx="59.3" cy="537" r="5.3"/></g>
<g id="n27-59"><circle cx="59.3" cy="557.2" r="5.3"/></g>
<g id="n28-59"><circle cx="59.3" cy="577.5" r="5.3"/></g>
<g id="n27-26"><circle cx="26" cy="557.2" r="5.3"/></g>
<g id="n28-26"><circle cx="26" cy="577.5" r="5.3"/></g>
<g id="n29-10"><circle cx="10" cy="597.8" r="5.3"/></g>
<g id="n30-10"><circle cx="10" cy="618" r="5.3"/></g>
<g id="n31-10"><circle cx="10" cy="638.3" r="5.3"/></g>
<g id="n32-10"><circle cx="10" cy="658.6" r="5.3"/></g>
<g id="n29-43"><circle cx="43.3" cy="597.8" r="5.3"/></g>
<g id="n30-43"><circle cx="43.3" cy="618" r="5.3"/></g>
<g id="n27-92"><circle cx="92.7" cy="557.2" r="5.3"/></g>
<g id="n28-92"><circle cx="92.7" cy="577.5" r="5.3"/></g>
</g>
</svg>
